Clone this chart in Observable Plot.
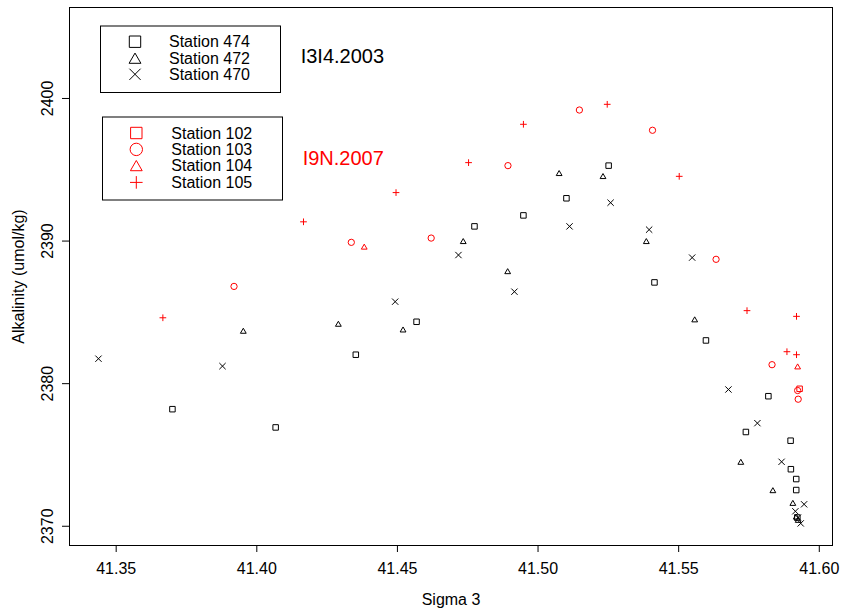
<!DOCTYPE html>
<html><head><meta charset="utf-8">
<script src="https://cdn.jsdelivr.net/npm/d3@7"></script>
<script src="https://cdn.jsdelivr.net/npm/@observablehq/plot@0.6"></script>
<style>
html,body{margin:0;padding:0;background:#fff;}
#chart{width:844px;height:614px;}
svg{display:block;}
</style></head><body><div id="chart"></div>
<script>
// ---- data ----
const st474X = [41.3700, 41.4067, 41.4352, 41.4568, 41.4774, 41.4948, 41.5101, 41.5251, 41.5414, 41.5597, 41.5739, 41.5819, 41.5898, 41.5899, 41.5918, 41.5918, 41.5922];
const st474Y = [2378.21, 2376.93, 2382.03, 2384.34, 2391.03, 2391.80, 2393.00, 2395.29, 2387.10, 2383.03, 2376.61, 2379.12, 2376.00, 2374.00, 2373.31, 2372.54, 2370.61];
const st472X = [41.3952, 41.4290, 41.4520, 41.4734, 41.4892, 41.5075, 41.5231, 41.5385, 41.5557, 41.5721, 41.5835, 41.5906, 41.5918, 41.5925];
const st472Y = [2383.71, 2384.20, 2383.80, 2390.00, 2387.89, 2394.77, 2394.56, 2390.00, 2384.51, 2374.52, 2372.53, 2371.64, 2370.68, 2370.45];
const st470X = [41.3437, 41.3878, 41.4492, 41.4717, 41.4916, 41.5112, 41.5258, 41.5395, 41.5548, 41.5677, 41.5780, 41.5866, 41.5946, 41.5915, 41.5924, 41.5934];
const st470Y = [2381.75, 2381.23, 2385.75, 2389.02, 2386.45, 2391.03, 2392.69, 2390.80, 2388.84, 2379.59, 2377.23, 2374.52, 2371.54, 2371.05, 2370.61, 2370.20];
const st102X = [41.5930];
const st102Y = [2379.64];
const st103X = [41.3919, 41.4336, 41.4620, 41.4893, 41.5147, 41.5407, 41.5633, 41.5832, 41.5923, 41.5925];
const st103Y = [2386.82, 2389.91, 2390.21, 2395.29, 2399.19, 2397.77, 2388.72, 2381.33, 2379.52, 2378.91];
const st104X = [41.4382, 41.5923];
const st104Y = [2389.61, 2381.21];
const st105X = [41.3666, 41.4166, 41.4495, 41.4753, 41.4948, 41.5246, 41.5502, 41.5743, 41.5919, 41.5885, 41.5919];
const st105Y = [2384.62, 2391.35, 2393.40, 2395.50, 2398.19, 2399.59, 2394.54, 2385.12, 2384.72, 2382.24, 2382.03];

const xTicks = [41.35, 41.40, 41.45, 41.50, 41.55, 41.60];
const yTicks = [2370, 2380, 2390, 2400];
const xLabel = "Sigma 3";
const yLabel = "Alkalinity (umol/kg)";
const legend1Labels = ["Station 474", "Station 472", "Station 470"];
const legend2Labels = ["Station 102", "Station 103", "Station 104", "Station 105"];
const cruise1 = "I3I4.2003";
const cruise2 = "I9N.2007";

// ---- symbols (R-like open symbols) ----
const mk = f => ({draw(ctx, size) { const r = Math.sqrt(size / Math.PI); f(ctx, r); }});
const symSquare = mk((c, r) => { c.moveTo(-r, -r); c.lineTo(r, -r); c.lineTo(r, r); c.lineTo(-r, r); c.closePath(); });
const symTriangle = mk((c, r) => { const h = 0.866 * r; c.moveTo(0, -h); c.lineTo(r, h); c.lineTo(-r, h); c.closePath(); });
const symCircle = mk((c, r) => { c.moveTo(r, 0); c.arc(0, 0, r, 0, 2 * Math.PI); c.closePath(); });
const symTimes = mk((c, r) => { c.moveTo(-r, -r); c.lineTo(r, r); c.moveTo(-r, r); c.lineTo(r, -r); });
const symPlus = mk((c, r) => { c.moveTo(-r, 0); c.lineTo(r, 0); c.moveTo(0, -r); c.lineTo(0, r); });

const zip = (xs, ys) => xs.map((x, i) => ({x, y: ys[i]}));
const RED = "#FF0000";
const FONT = "'Liberation Sans', Arial, Helvetica, sans-serif";

const series = [
  {data: zip(st474X, st474Y), symbol: symSquare, r: 2.75, color: "black"},
  {data: zip(st472X, st472Y), symbol: symTriangle, r: 2.9, color: "black"},
  {data: zip(st470X, st470Y), symbol: symTimes, r: 3.15, color: "black"},
  {data: zip(st102X, st102Y), symbol: symSquare, r: 2.75, color: RED},
  {data: zip(st103X, st103Y), symbol: symCircle, r: 3.15, color: RED},
  {data: zip(st104X, st104Y), symbol: symTriangle, r: 2.9, color: RED},
  {data: zip(st105X, st105Y), symbol: symPlus, r: 3.35, color: RED}
];

const chart = Plot.plot({
  width: 844, height: 614,
  marginLeft: 69, marginRight: 12, marginTop: 7, marginBottom: 69,
  style: {fontFamily: FONT, fontSize: "16px", background: "white", color: "black"},
  x: {domain: [41.3334, 41.6047]},
  y: {domain: [2368.65, 2406.38]},
  marks: [
    Plot.frame({stroke: "black", strokeWidth: 1}),
    Plot.axisX(xTicks, {tickSize: 7, tickPadding: 10, tickFormat: d3.format(".2f"), label: null, fontSize: 16}),
    Plot.axisY(yTicks, {tickSize: 7, tickFormat: () => "", label: null}),
    Plot.text(yTicks, {y: d => d, text: d => String(d), frameAnchor: "left", dx: -21.5, rotate: -90, textAnchor: "middle", lineAnchor: "middle", fontSize: 16}),
    Plot.text([yLabel], {text: d => d, frameAnchor: "left", dx: -51, rotate: -90, textAnchor: "middle", lineAnchor: "middle", fontSize: 16}),
    Plot.text([xLabel], {text: d => d, frameAnchor: "bottom", dy: 54, lineAnchor: "middle", fontSize: 16}),
    ...series.map(s => Plot.dot(s.data, {x: "x", y: "y", symbol: s.symbol, r: s.r, fill: "none", stroke: s.color, strokeWidth: 1}))
  ]
});
document.getElementById("chart").appendChild(chart);

// ---- legends (R-style boxed legends) ----
const svg = d3.select(chart);
const lg = svg.append("g").attr("font-family", FONT).attr("font-size", 16).attr("text-anchor", "start");
function legendBox(x0, y0, x1, y1, rows, labels, color, symX, textX) {
  lg.append("rect").attr("x", x0 + 0.5).attr("y", y0 + 0.5).attr("width", x1 - x0).attr("height", y1 - y0)
    .attr("fill", "white").attr("stroke", "black").attr("stroke-width", 1);
  labels.forEach((lab, i) => {
    const cy = rows[i].y;
    lg.append("path").attr("transform", `translate(${symX},${cy})`)
      .attr("d", d3.symbol().type(rows[i].sym).size(Math.PI * rows[i].r * rows[i].r)())
      .attr("fill", "none").attr("stroke", color).attr("stroke-width", 1);
    lg.append("text").attr("x", textX).attr("y", cy + 5.7).attr("fill", "black").attr("text-anchor", "start").text(lab);
  });
}
legendBox(100, 25.5, 280, 92, [
  {y: 41.7, sym: symSquare, r: 5.7},
  {y: 58.2, sym: symTriangle, r: 5.9},
  {y: 74.3, sym: symTimes, r: 5.6}
], legend1Labels, "black", 135, 169);
legendBox(102, 116.5, 282, 199.5, [
  {y: 133.0, sym: symSquare, r: 5.7},
  {y: 149.4, sym: symCircle, r: 6.2},
  {y: 165.6, sym: symTriangle, r: 5.9},
  {y: 182.4, sym: symPlus, r: 6.3}
], legend2Labels, RED, 136.3, 171.3);
lg.append("text").attr("x", 300.7).attr("y", 62.6).attr("font-size", 20).attr("fill", "black").attr("text-anchor", "start").text(cruise1);
lg.append("text").attr("x", 302.7).attr("y", 164.6).attr("font-size", 20).attr("fill", RED).attr("text-anchor", "start").text(cruise2);
</script>
</body></html>
